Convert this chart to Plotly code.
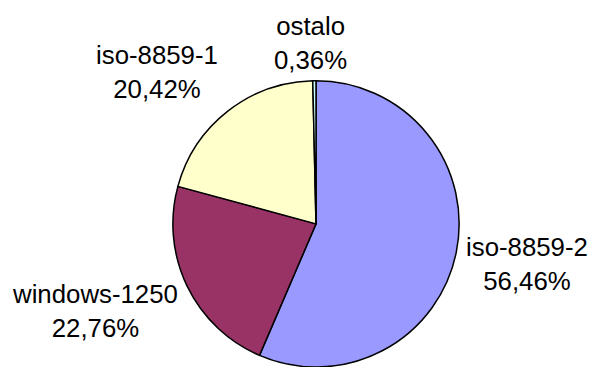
import plotly.graph_objects as go

labels = ["iso-8859-2", "windows-1250", "iso-8859-1", "ostalo"]
values = [56.46, 22.76, 20.42, 0.36]
value_text = ["56,46%", "22,76%", "20,42%", "0,36%"]
colors = ["#9999FF", "#993366", "#FFFFCC", "#CCFFFF"]

W, H = 592, 367

fig = go.Figure(go.Pie(
    labels=labels,
    values=values,
    sort=False,
    direction="clockwise",
    rotation=0,
    marker=dict(colors=colors, line=dict(color="black", width=1.5)),
    textinfo="none",
    hoverinfo="label+percent",
    domain=dict(x=[0.2914, 0.7762], y=[0.0, 0.78]),
    showlegend=False,
))

# label positions (pixel centres of the two-line label blocks)
label_pos = {
    "iso-8859-2": (527, 264),
    "windows-1250": (95, 311),
    "iso-8859-1": (157, 72),
    "ostalo": (310, 43),
}

for lab, txt in zip(labels, value_text):
    px, py = label_pos[lab]
    fig.add_annotation(
        x=px / W, y=1 - py / H, xref="paper", yref="paper",
        text=f"{lab}<br>{txt}", showarrow=False,
        xanchor="center", yanchor="middle", align="center",
        font=dict(family="Liberation Sans, Arial, sans-serif", size=25.8, color="black"),
    )

fig.update_layout(
    width=W, height=H,
    margin=dict(l=0, r=0, t=0, b=0),
    paper_bgcolor="white", plot_bgcolor="white",
)

fig.write_html("out.html")
